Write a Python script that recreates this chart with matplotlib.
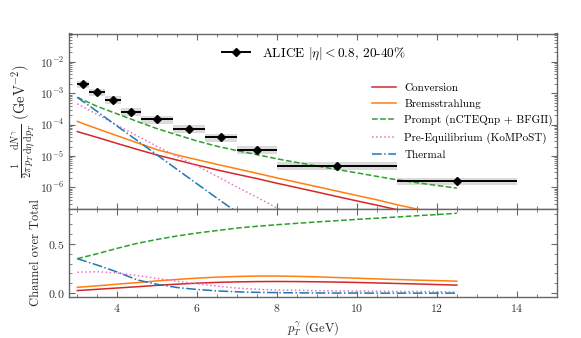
import numpy as np
import matplotlib
matplotlib.use("Agg")
import matplotlib.pyplot as plt
from matplotlib.ticker import MultipleLocator, LogLocator, NullFormatter
from matplotlib.lines import Line2D

plt.rcParams['font.family'] = 'serif'
plt.rcParams['font.serif'] = ['cmr10']
plt.rcParams['mathtext.fontset'] = 'cm'
plt.rcParams['axes.formatter.use_mathtext'] = True

# ---------------- data ----------------
# ALICE points
bin_lo = [3.0, 3.3, 3.7, 4.1, 4.6, 5.4, 6.2, 7.0, 8.0, 11.0]
bin_hi = [3.3, 3.7, 4.1, 4.6, 5.4, 6.2, 7.0, 8.0, 11.0, 14.0]
alice_x = [3.15, 3.5, 3.9, 4.35, 5.0, 5.8, 6.6, 7.5, 9.5, 12.5]
alice_y = [1.95e-3, 1.1e-3, 6.3e-4, 2.6e-4, 1.48e-4, 7.4e-5, 3.9e-5, 1.6e-5, 4.9e-6, 1.6e-6]
alice_stat = [0.06, 0.06, 0.06, 0.07, 0.07, 0.08, 0.08, 0.09, 0.1, 0.12]
alice_sys = [0.27, 0.27, 0.27, 0.27, 0.27, 0.27, 0.27, 0.27, 0.27, 0.27]

# model curves (top panel)
pt = [3.0, 3.5, 4.0, 4.5, 5.0, 5.5, 6.0, 6.5, 7.0, 7.5,
      8.0, 8.5, 9.0, 9.5, 10.0, 10.5, 11.0, 11.5, 12.0, 12.5]
conversion = [6.0e-5, 3.9e-5, 2.5e-5, 1.62e-5, 1.07e-5, 7.4e-6, 5.1e-6, 3.6e-6, 2.6e-6, 1.9e-6,
              1.35e-6, 9.8e-7, 7.1e-7, 5.1e-7, 3.7e-7, 2.7e-7, 1.95e-7, 1.41e-7, 1.02e-7, 7.4e-8]
brems = [1.26e-4, 7.4e-5, 4.4e-5, 2.63e-5, 1.58e-5, 1.07e-5, 7.6e-6, 5.4e-6, 3.9e-6, 2.8e-6,
         2.0e-6, 1.45e-6, 1.05e-6, 7.6e-7, 5.5e-7, 4.0e-7, 2.8e-7, 2.04e-7, 1.48e-7, 1.07e-7]
prompt = [7.4e-4, 3.8e-4, 2.19e-4, 1.26e-4, 7.4e-5, 4.7e-5, 3.0e-5, 2.04e-5, 1.48e-5, 1.10e-5,
          8.1e-6, 6.2e-6, 4.8e-6, 3.7e-6, 2.9e-6, 2.24e-6, 1.74e-6, 1.41e-6, 1.15e-6, 9.5e-7]
preeq = [4.6e-4, 2.1e-4, 9.5e-5, 4.4e-5, 2.0e-5, 9.8e-6, 4.8e-6, 2.24e-6, 1.02e-6, 4.8e-7,
         2.2e-7, 1.1e-7, 6.3e-8, 4.0e-8, 3.0e-8, 2.4e-8, 2.0e-8, 1.7e-8, 1.5e-8, 1.3e-8]
thermal = [7.4e-4, 2.6e-4, 8.9e-5, 3.1e-5, 1.07e-5, 3.7e-6, 1.29e-6, 4.5e-7, 1.6e-7, 5.6e-8,
           2.0e-8, 7e-9, 2.5e-9, 9e-10, 3.3e-10, 1.2e-10, 4.5e-11, 1.7e-11, 6.5e-12, 2.5e-12]

# channel over total (bottom panel)
r_conversion = [0.027, 0.040, 0.053, 0.066, 0.080, 0.092, 0.102, 0.110, 0.115, 0.118,
                0.119, 0.118, 0.116, 0.113, 0.109, 0.104, 0.099, 0.094, 0.088, 0.082]
r_brems = [0.060, 0.075, 0.092, 0.108, 0.125, 0.140, 0.153, 0.163, 0.170, 0.174,
           0.174, 0.171, 0.166, 0.159, 0.152, 0.145, 0.139, 0.133, 0.128, 0.122]
r_prompt = [0.350, 0.400, 0.455, 0.505, 0.545, 0.580, 0.610, 0.635, 0.660, 0.678,
            0.694, 0.708, 0.722, 0.735, 0.748, 0.760, 0.772, 0.785, 0.797, 0.810]
r_preeq = [0.213, 0.218, 0.205, 0.180, 0.150, 0.122, 0.095, 0.072, 0.052, 0.040,
           0.033, 0.029, 0.026, 0.024, 0.022, 0.020, 0.018, 0.017, 0.015, 0.014]
r_thermal = [0.350, 0.285, 0.215, 0.135, 0.090, 0.058, 0.038, 0.024, 0.014, 0.009,
             0.006, 0.004, 0.003, 0.002, 0.002, 0.001, 0.001, 0.001, 0.001, 0.001]

labels = ['Conversion', 'Bremsstrahlung', 'Prompt (nCTEQnp + BFGII)',
          'Pre-Equilibrium (KoMPoST)', 'Thermal']
colors = ['#d62728', '#ff7f0e', '#2ca02c', '#e377c2', '#1f77b4']
styles = ['-', '-', '--', ':', '-.']

# ---------------- figure ----------------
fig = plt.figure(figsize=(5.81, 3.38), dpi=100)
L, R = 69.3 / 581, 556.7 / 581
ax1 = fig.add_axes([L, 1 - 209.3 / 338, R - L, (209.3 - 33.5) / 338])
ax2 = fig.add_axes([L, 1 - 296.7 / 338, R - L, (296.7 - 209.3) / 338], sharex=ax1)

spine_col = '0.4'
for ax in (ax1, ax2):
    for s in ax.spines.values():
        s.set_color(spine_col)
        s.set_linewidth(1.0)
    ax.tick_params(which='both', direction='in', top=True, right=True,
                   color=spine_col, labelsize=8.5, labelcolor='0.2')
    ax.tick_params(which='major', length=4, width=0.8)
    ax.tick_params(which='minor', length=2, width=0.6)

# systematic boxes
lo = np.array(bin_lo); hi = np.array(bin_hi)
ay = np.array(alice_y)
sysr = np.array(alice_sys)
ax1.bar(lo, ay * (1 + sysr) - ay * (1 - sysr), width=hi - lo, bottom=ay * (1 - sysr),
        align='edge', color='0.86', edgecolor='none', zorder=1)

ax_x = np.array(alice_x)
ax1.errorbar(ax_x, ay, xerr=[ax_x - lo, hi - ax_x], yerr=ay * np.array(alice_stat),
             fmt='D', color='k', ms=3.8, lw=1.4, capsize=0, zorder=5)
alice_handle = Line2D([], [], color='k', lw=1.4, marker='D', ms=3.8)

curves = [conversion, brems, prompt, preeq, thermal]
ratios = [r_conversion, r_brems, r_prompt, r_preeq, r_thermal]
handles = []
for c, r, lab, col, ls in zip(curves, ratios, labels, colors, styles):
    h, = ax1.plot(pt, c, ls=ls, color=col, lw=1.1, label=lab, zorder=3)
    handles.append(h)
    ax2.plot(pt, r, ls=ls, color=col, lw=1.1, zorder=3)

ax1.set_yscale('log')
ax1.set_ylim(2e-7, 8e-2)
ax1.set_xlim(2.8, 15)
ax1.yaxis.set_major_locator(LogLocator(base=10, numticks=20))
ax1.yaxis.set_minor_locator(LogLocator(base=10, subs=np.arange(2, 10), numticks=20))
ax1.yaxis.set_minor_formatter(NullFormatter())
ax1.tick_params(labelbottom=False)
ax1.set_ylabel(r'$\frac{1}{2\pi\, p_T}\frac{\mathrm{d}N^\gamma}{\mathrm{d}\eta\, \mathrm{d}p_T}$ (GeV$^{-2}$)',
               fontsize=10.5, color='0.15', labelpad=2)

ax2.set_ylim(-0.035, 0.85)
ax2.yaxis.set_major_locator(MultipleLocator(0.5))
ax2.yaxis.set_minor_locator(MultipleLocator(0.1))
ax2.xaxis.set_major_locator(MultipleLocator(2))
ax2.xaxis.set_minor_locator(MultipleLocator(0.5))
ax2.set_xlabel(r'$p_T^\gamma$ (GeV)', fontsize=9, color='0.15')
ax2.set_ylabel('Channel over Total', fontsize=9, color='0.15')

leg1 = ax1.legend(handles=[alice_handle], labels=[r'ALICE $|\eta| < 0.8$, 20-40%'],
                  loc='upper left', bbox_to_anchor=(0.314, 0.933),
                  frameon=False, fontsize=9.6, handlelength=2.1, handletextpad=0.85,
                  borderpad=0.0, borderaxespad=0.0)
ax1.add_artist(leg1)
ax1.legend(handles=handles, loc='upper left', bbox_to_anchor=(0.621, 0.718),
           frameon=False, fontsize=8, handlelength=2.2, handletextpad=0.7,
           labelspacing=0.55, borderpad=0.0, borderaxespad=0.0)

fig.align_ylabels([ax1, ax2])
fig.savefig('out.png', dpi=100)
